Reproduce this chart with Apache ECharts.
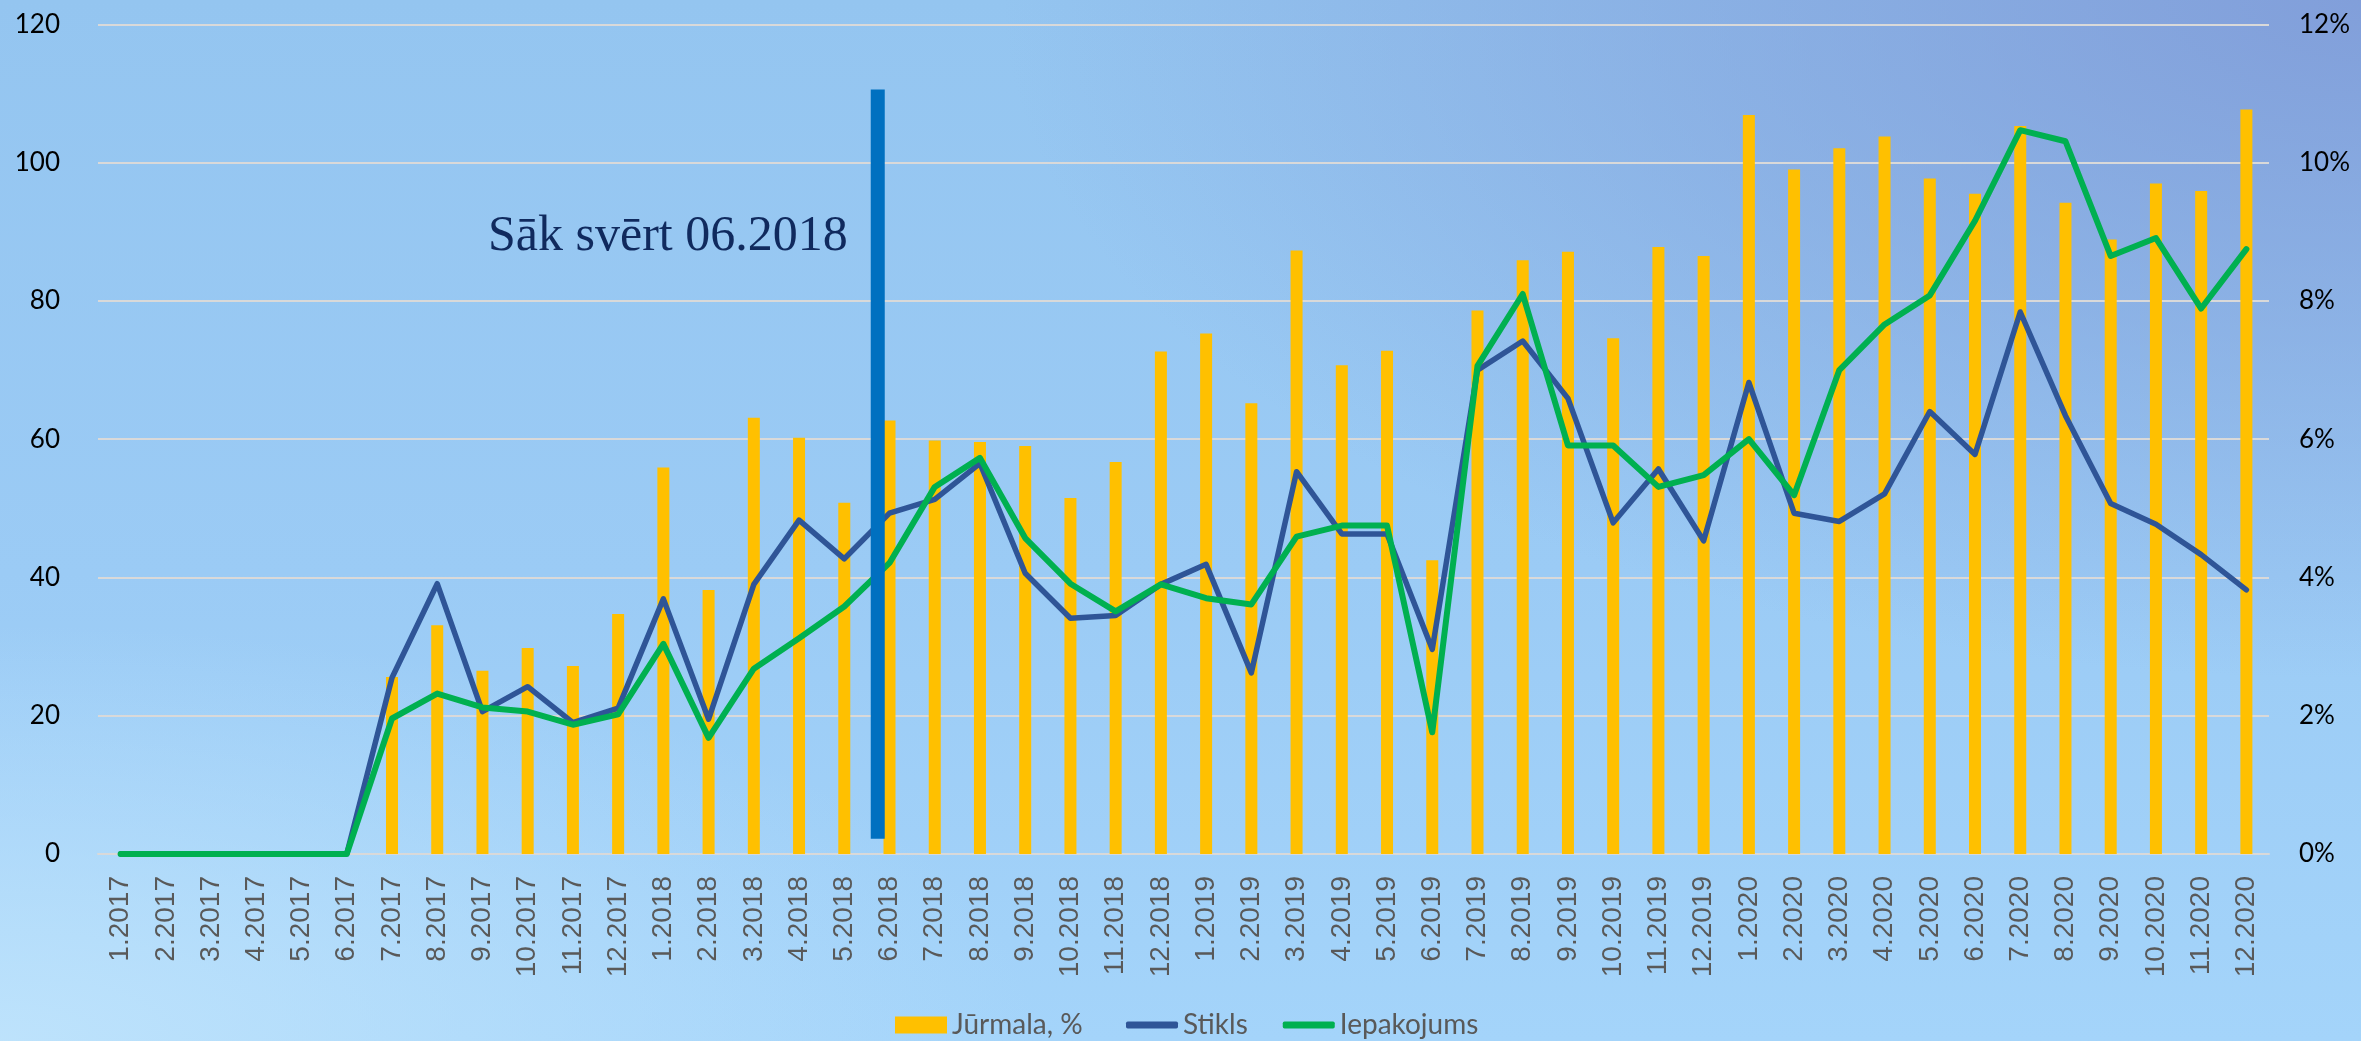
<!DOCTYPE html>
<html>
<head>
<meta charset="utf-8">
<script src="https://cdn.jsdelivr.net/npm/echarts@6/dist/echarts.min.js"></script>
<style>
html,body{margin:0;padding:0;width:2361px;height:1041px;overflow:hidden;}
body{
  background:
    radial-gradient(ellipse 1700px 850px at 100% 0%, rgba(126,152,214,0.85) 0%, rgba(126,152,214,0.45) 40%, rgba(126,152,214,0) 80%),
    radial-gradient(ellipse 1300px 520px at 0% 100%, rgba(192,228,252,0.9) 0%, rgba(192,228,252,0) 80%),
    linear-gradient(180deg, #94C5F0 0%, #9BCBF5 55%, #A4D4FA 100%);
}
#chart{width:2361px;height:1041px;}
</style>
</head>
<body>
<div id="chart"></div>
<script>
const categories = ["1.2017","2.2017","3.2017","4.2017","5.2017","6.2017","7.2017","8.2017","9.2017","10.2017","11.2017","12.2017",
  "1.2018","2.2018","3.2018","4.2018","5.2018","6.2018","7.2018","8.2018","9.2018","10.2018","11.2018","12.2018",
  "1.2019","2.2019","3.2019","4.2019","5.2019","6.2019","7.2019","8.2019","9.2019","10.2019","11.2019","12.2019",
  "1.2020","2.2020","3.2020","4.2020","5.2020","6.2020","7.2020","8.2020","9.2020","10.2020","11.2020","12.2020"];

// Jūrmala, % (right axis, percent)
const jurmala = [null,null,null,null,null,null,2.56,3.31,2.65,2.98,2.72,3.47,
  5.59,3.82,6.31,6.02,5.08,6.27,5.98,5.96,5.90,5.15,5.67,7.27,
  7.53,6.52,8.73,7.07,7.28,4.25,7.86,8.59,8.71,7.46,8.78,8.65,
  10.69,9.90,10.21,10.38,9.77,9.55,10.53,9.42,8.89,9.70,9.59,10.77];

// Stikls (left axis)
const stikls = [0,0,0,0,0,0,25.5,39.1,20.6,24.2,19.0,21.1,
  36.9,19.5,39.0,48.3,42.7,49.3,51.3,56.5,40.6,34.1,34.5,39.0,
  41.9,26.2,55.3,46.3,46.3,29.6,70.0,74.2,65.9,47.9,55.7,45.3,
  68.2,49.3,48.1,52.1,64.0,57.8,78.4,63.4,50.7,47.7,43.3,38.2];

// Iepakojums (left axis)
const iepakojums = [0,0,0,0,0,0,19.6,23.2,21.2,20.6,18.7,20.2,
  30.4,16.8,26.8,31.2,35.8,42.1,53.1,57.3,45.7,39.1,35.1,39.0,
  37.0,36.1,45.9,47.5,47.5,17.6,70.6,81.0,59.1,59.1,53.1,54.8,
  60.0,51.9,70.0,76.6,80.8,91.6,104.7,103.1,86.5,89.1,78.9,87.5];

// Marker "Sāk svērt 06.2018": position on a 0..48 month scale and its value span
const markerX = [17.24, 17.24];
const markerY = [2.2, 110.6];
const markerText = "Sāk svērt 06.2018";

const leftTicks = {min:0, max:120, interval:20};
const rightTicks = {min:0, max:12, interval:2};

const chart = echarts.init(document.getElementById('chart'), null, {renderer:'canvas'});
const gridColor = '#D9D9D9';
const legendText = {fontFamily: 'Lato, "Liberation Sans Narrow", sans-serif', fontSize: 28, color: '#595959'};
chart.setOption({
  backgroundColor: 'transparent',
  animation: false,
  grid: {left: 98, right: 92, top: 24.4, bottom: 187, containLabel: false},
  legend: [
    {
      top: 1006, left: 890, orient: 'horizontal',
      itemWidth: 52, itemHeight: 17, itemGap: 35,
      textStyle: legendText,
      data: [{name: 'Jūrmala, %', icon: 'rect'}]
    },
    {
      top: 1006, left: 1121, orient: 'horizontal',
      itemWidth: 52, itemHeight: 7, itemGap: 35,
      textStyle: legendText,
      data: [{name: 'Stikls', icon: 'roundRect'}, {name: 'Iepakojums', icon: 'roundRect'}]
    }
  ],
  xAxis: [
    {
      type: 'category', data: categories, boundaryGap: true,
      axisLine: {show: true, lineStyle: {color: gridColor, width: 2}},
      axisTick: {show: false},
      axisLabel: {interval: 0, rotate: 90, margin: 22, color: '#595959', fontSize: 28, fontFamily: '"Liberation Sans", Arial, sans-serif'}
    },
    {
      type: 'value', min: 0, max: 48, show: false, position: 'top'
    }
  ],
  yAxis: [
    {
      type: 'value', min: leftTicks.min, max: leftTicks.max, interval: leftTicks.interval,
      axisLine: {show: false}, axisTick: {show: false},
      splitLine: {lineStyle: {color: gridColor, width: 2}},
      axisLabel: {margin: 38, color: '#000', fontSize: 26, fontFamily: 'Lato, "Liberation Sans Narrow", sans-serif'}
    },
    {
      type: 'value', min: rightTicks.min, max: rightTicks.max, interval: rightTicks.interval,
      axisLine: {show: false}, axisTick: {show: false},
      splitLine: {show: false},
      axisLabel: {margin: 30, color: '#000', fontSize: 26, fontFamily: 'Lato, "Liberation Sans Narrow", sans-serif', formatter: '{value}%'}
    }
  ],
  series: [
    {
      name: 'Jūrmala, %', type: 'bar', data: jurmala, yAxisIndex: 1, xAxisIndex: 0,
      barWidth: 12, itemStyle: {color: '#FFC000'}, z: 2
    },
    {
      name: 'Stikls', type: 'line', data: stikls, yAxisIndex: 0, xAxisIndex: 0,
      symbol: 'none', lineStyle: {color: '#2F5597', width: 5.5, join: 'round', cap: 'round'}, itemStyle: {color: '#2F5597'}, z: 3
    },
    {
      name: 'Iepakojums', type: 'line', data: iepakojums, yAxisIndex: 0, xAxisIndex: 0,
      symbol: 'none', lineStyle: {color: '#00B050', width: 6, join: 'round', cap: 'round'}, itemStyle: {color: '#00B050'}, z: 4
    },
    {
      name: 'marker', type: 'line', xAxisIndex: 1, yAxisIndex: 0,
      data: markerX.map((x, i) => [x, markerY[i]]),
      symbol: 'none', lineStyle: {color: '#0070C0', width: 14, cap: 'butt'}, z: 5,
      silent: true
    }
  ],
  graphic: [
    {
      type: 'text', left: 488, top: 212, z: 10,
      style: {text: markerText, font: '50px "Liberation Serif", "DejaVu Serif", serif', fill: '#102A5E'}
    }
  ]
});
</script>
</body>
</html>
